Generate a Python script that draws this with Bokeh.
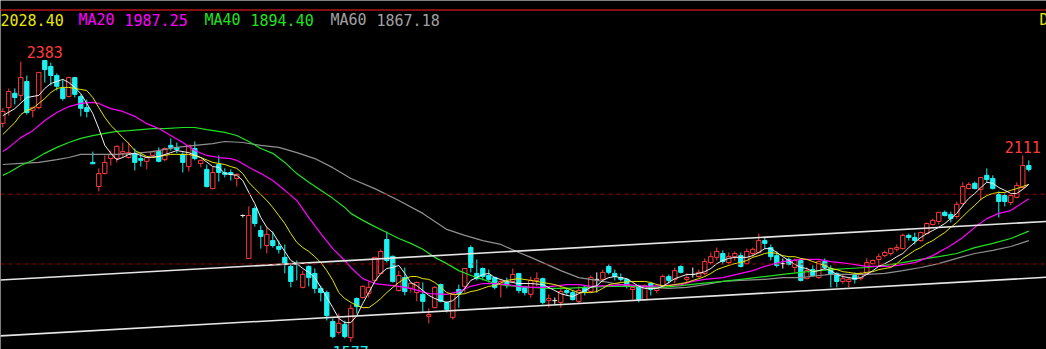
import numpy as np
from bokeh.plotting import figure
from bokeh.models import Range1d, Span, Label, ColumnDataSource
from bokeh.core.properties import value
from bokeh.embed import file_html
from bokeh.resources import INLINE

# ---------------- data ----------------
opens = [2203, 2248, 2289, 2283, 2323, 2240, 2248, 2383, 2366, 2340,
         2303, 2280, 2334, 2280, 2248, 2091, 2022, 2059, 2102, 2102,
         2117, 2105, 2117, 2102, 2094, 2111, 2122, 2099, 2140, 2134,
         2114, 2079, 2131, 2088, 2071, 2016, 2085, 2062, 2062, 2045,
         1939, 1816, 1959, 1896, 1853, 1867, 1850, 1819, 1793, 1801,
         1733, 1793, 1773, 1730, 1718, 1635, 1604, 1627, 1589, 1701,
         1704, 1716, 1753, 1773, 1870, 1822, 1724, 1761, 1730, 1718,
         1713, 1650, 1675, 1741, 1690, 1647, 1727, 1736, 1847, 1773,
         1787, 1767, 1761, 1741, 1747, 1750, 1773, 1733, 1713, 1753,
         1758, 1695, 1695, 1690, 1724, 1718, 1693, 1733, 1721, 1756,
         1756, 1793, 1773, 1761, 1756, 1727, 1738, 1698, 1744, 1724,
         1736, 1764, 1756, 1793, 1756, 1770, 1764, 1773, 1804, 1819,
         1830, 1804, 1821, 1824, 1801, 1830, 1833, 1867, 1847, 1824,
         1801, 1813, 1790, 1810, 1758, 1784, 1761, 1807, 1787, 1773,
         1750, 1750, 1767, 1758, 1773, 1801, 1813, 1824, 1830, 1842,
         1844, 1882, 1876, 1867, 1887, 1913, 1922, 1948, 1942, 1936,
         1973, 2016, 2031, 2014, 2054, 2045, 1999, 1996, 1976, 1991,
         2019, 2082]
closes = [2237, 2294, 2277, 2334, 2234, 2248, 2349, 2357, 2340, 2309,
          2274, 2334, 2286, 2246, 2237, 2087, 2059, 2091, 2114, 2137,
          2122, 2119, 2091, 2097, 2105, 2122, 2094, 2131, 2134, 2128,
          2091, 2140, 2102, 2097, 2022, 2062, 2062, 2057, 2057, 2057,
          1939, 1939, 1916, 1879, 1885, 1853, 1842, 1801, 1750, 1799,
          1770, 1761, 1730, 1718, 1652, 1592, 1630, 1592, 1673, 1678,
          1736, 1733, 1819, 1836, 1810, 1750, 1767, 1721, 1744, 1747,
          1693, 1655, 1733, 1693, 1670, 1713, 1716, 1787, 1790, 1758,
          1764, 1756, 1733, 1750, 1741, 1770, 1724, 1718, 1753, 1758,
          1690, 1701, 1695, 1721, 1718, 1698, 1724, 1721, 1761, 1756,
          1776, 1776, 1764, 1756, 1736, 1733, 1698, 1738, 1727, 1730,
          1764, 1753, 1781, 1776, 1761, 1770, 1776, 1807, 1821, 1836,
          1807, 1821, 1830, 1793, 1836, 1842, 1867, 1859, 1821, 1796,
          1801, 1799, 1810, 1753, 1781, 1767, 1807, 1790, 1770, 1750,
          1758, 1756, 1756, 1770, 1804, 1810, 1821, 1833, 1844, 1847,
          1882, 1876, 1867, 1890, 1916, 1925, 1948, 1939, 1930, 1971,
          2022, 2028, 2016, 2048, 2042, 2016, 1979, 1979, 1996, 2025,
          2082, 2071]
highs = [2246, 2303, 2303, 2380, 2340, 2251, 2349, 2383, 2377, 2346,
         2329, 2337, 2334, 2286, 2271, 2122, 2074, 2111, 2125, 2140,
         2148, 2148, 2131, 2117, 2108, 2125, 2134, 2134, 2160, 2148,
         2120, 2140, 2151, 2099, 2085, 2077, 2111, 2074, 2071, 2059,
         1942, 1965, 1965, 1910, 1907, 1893, 1867, 1856, 1801, 1810,
         1781, 1796, 1787, 1738, 1724, 1644, 1658, 1638, 1684, 1704,
         1738, 1750, 1819, 1842, 1893, 1824, 1781, 1790, 1747, 1750,
         1747, 1673, 1736, 1744, 1693, 1716, 1741, 1787, 1853, 1813,
         1790, 1784, 1764, 1753, 1761, 1787, 1773, 1736, 1764, 1776,
         1761, 1713, 1704, 1733, 1733, 1724, 1736, 1738, 1767, 1776,
         1784, 1799, 1784, 1773, 1758, 1736, 1741, 1741, 1747, 1733,
         1770, 1770, 1790, 1796, 1773, 1790, 1784, 1816, 1833, 1847,
         1839, 1833, 1836, 1833, 1844, 1847, 1887, 1876, 1856, 1836,
         1816, 1819, 1816, 1816, 1790, 1796, 1810, 1816, 1796, 1776,
         1770, 1761, 1776, 1778, 1816, 1813, 1830, 1839, 1847, 1856,
         1887, 1887, 1890, 1893, 1919, 1930, 1948, 1953, 1950, 1979,
         2034, 2034, 2036, 2048, 2074, 2054, 2008, 2002, 2002, 2034,
         2111, 2097]
lows = [2191, 2225, 2257, 2268, 2228, 2220, 2243, 2320, 2311, 2297,
        2268, 2277, 2277, 2223, 2220, 2087, 2008, 2057, 2082, 2091,
        2105, 2102, 2068, 2079, 2071, 2108, 2091, 2094, 2125, 2117,
        2062, 2065, 2097, 2077, 2019, 2014, 2036, 2048, 2039, 2022,
        1933, 1816, 1907, 1844, 1830, 1847, 1830, 1773, 1733, 1753,
        1730, 1736, 1716, 1693, 1638, 1587, 1598, 1587, 1577, 1658,
        1701, 1704, 1747, 1770, 1804, 1747, 1721, 1710, 1718, 1693,
        1661, 1630, 1673, 1690, 1661, 1641, 1675, 1718, 1776, 1753,
        1753, 1747, 1727, 1704, 1730, 1747, 1716, 1710, 1704, 1736,
        1684, 1675, 1684, 1675, 1710, 1695, 1687, 1710, 1718, 1718,
        1747, 1770, 1753, 1750, 1730, 1698, 1690, 1695, 1710, 1716,
        1733, 1744, 1744, 1773, 1747, 1761, 1761, 1767, 1799, 1810,
        1799, 1799, 1810, 1790, 1799, 1821, 1830, 1844, 1810, 1790,
        1787, 1796, 1776, 1750, 1756, 1764, 1758, 1781, 1733, 1733,
        1744, 1733, 1744, 1753, 1770, 1799, 1793, 1819, 1824, 1836,
        1842, 1867, 1856, 1864, 1885, 1910, 1913, 1936, 1919, 1930,
        1968, 2014, 2014, 1982, 2034, 2014, 1933, 1965, 1968, 1988,
        2016, 2065]

ma5_idx = [0, 2, 4, 6, 7, 8, 9, 10, 11, 12, 13, 14, 15, 16, 17, 18, 19, 20, 21, 22,
           23, 24, 26, 28, 29, 31, 33, 35, 36, 37, 39, 40, 41, 42, 43, 44, 45, 46, 47, 48,
           49, 50, 51, 52, 53, 54, 55, 56, 57, 58, 59, 60, 61, 62, 63, 64, 65, 66, 67, 68,
           69, 70, 71, 72, 73, 74, 75, 76, 77, 78, 79, 80, 81, 82, 84, 86, 88, 90, 92, 93,
           94, 95, 96, 97, 98, 99, 100, 101, 102, 103, 104, 105, 106, 107, 108, 109, 110, 111, 112, 113,
           114, 115, 116, 117, 118, 119, 120, 121, 122, 123, 124, 125, 126, 127, 128, 129, 130, 131, 132, 133,
           134, 135, 136, 137, 138, 139, 140, 141, 142, 143, 144, 145, 146, 147, 148, 149, 150, 151, 152, 153,
           154, 155, 156, 157, 158, 159, 160, 161, 162, 163, 164, 165, 166, 167, 168, 169, 170, 171]
ma5_val = [2225, 2245, 2277, 2283, 2303, 2317, 2323, 2329, 2320, 2306, 2288, 2260, 2231, 2188, 2140, 2117, 2099, 2105, 2114, 2117,
           2111, 2105, 2108, 2119, 2125, 2119, 2105, 2079, 2077, 2059, 2054, 2039, 2005, 1973, 1933, 1905, 1890, 1862, 1836, 1810,
           1801, 1787, 1776, 1761, 1733, 1704, 1675, 1644, 1632, 1632, 1652, 1687, 1718, 1750, 1773, 1787, 1790, 1796, 1773, 1747,
           1738, 1724, 1710, 1701, 1695, 1690, 1695, 1710, 1730, 1753, 1761, 1770, 1773, 1761, 1750, 1744, 1744, 1741, 1724, 1715,
           1710, 1707, 1715, 1724, 1733, 1738, 1753, 1761, 1764, 1761, 1758, 1747, 1736, 1730, 1730, 1730, 1736, 1747, 1758, 1764,
           1770, 1770, 1773, 1778, 1787, 1801, 1810, 1816, 1819, 1819, 1819, 1824, 1833, 1844, 1844, 1833, 1821, 1810, 1799, 1790,
           1787, 1778, 1781, 1787, 1781, 1770, 1764, 1761, 1758, 1761, 1770, 1781, 1793, 1801, 1810, 1821, 1830, 1847, 1862, 1876,
           1887, 1896, 1905, 1916, 1930, 1945, 1968, 1988, 2002, 2019, 2034, 2031, 2019, 2011, 2002, 2002, 2014, 2028]

ma10_idx = [0, 1, 2, 3, 4, 5, 6, 7, 8, 9, 10, 11, 12, 13, 14, 15, 16, 17, 18, 19,
            20, 21, 22, 23, 24, 25, 26, 27, 28, 29, 31, 33, 35, 37, 38, 39, 40, 41, 42, 43,
            44, 45, 46, 47, 48, 49, 50, 51, 52, 53, 54, 55, 56, 57, 58, 59, 60, 61, 62, 63,
            64, 65, 66, 67, 68, 69, 70, 71, 72, 73, 74, 75, 76, 77, 78, 79, 80, 81, 82, 84,
            86, 88, 90, 92, 94, 96, 97, 98, 99, 100, 101, 102, 103, 105, 107, 108, 109, 110, 111, 112,
            113, 114, 115, 116, 117, 118, 119, 120, 121, 122, 123, 124, 125, 126, 127, 128, 129, 130, 131, 132,
            133, 134, 135, 136, 137, 138, 139, 140, 141, 142, 143, 144, 145, 146, 147, 148, 149, 150, 151, 152,
            153, 154, 155, 156, 157, 158, 159, 160, 161, 162, 163, 164, 165, 166, 167, 168, 169, 170, 171]
ma10_val = [2171, 2188, 2205, 2228, 2240, 2246, 2260, 2274, 2291, 2303, 2306, 2306, 2303, 2300, 2297, 2277, 2248, 2220, 2197, 2180,
            2162, 2145, 2125, 2117, 2108, 2105, 2108, 2111, 2114, 2114, 2114, 2105, 2091, 2085, 2079, 2074, 2059, 2034, 2016, 1999,
            1982, 1962, 1939, 1916, 1887, 1862, 1847, 1836, 1821, 1804, 1781, 1753, 1718, 1701, 1690, 1681, 1675, 1675, 1687, 1701,
            1718, 1733, 1747, 1758, 1764, 1764, 1758, 1756, 1747, 1733, 1718, 1713, 1713, 1715, 1721, 1724, 1730, 1736, 1738, 1753,
            1758, 1753, 1747, 1741, 1730, 1718, 1718, 1718, 1721, 1730, 1741, 1744, 1747, 1750, 1750, 1747, 1741, 1738, 1738, 1741,
            1744, 1747, 1753, 1758, 1764, 1773, 1784, 1790, 1796, 1801, 1804, 1810, 1819, 1824, 1830, 1833, 1830, 1824, 1821, 1821,
            1816, 1813, 1807, 1801, 1796, 1787, 1784, 1778, 1776, 1773, 1773, 1776, 1778, 1784, 1787, 1790, 1801, 1816, 1827, 1839,
            1847, 1859, 1867, 1879, 1890, 1905, 1919, 1936, 1953, 1968, 1985, 1996, 2002, 2005, 2005, 2011, 2016, 2022, 2028]

ma20_idx = [0, 1, 3, 5, 7, 9, 11, 13, 15, 16, 18, 20, 22, 24, 26, 28, 30, 32, 34, 36,
            38, 39, 41, 43, 45, 47, 49, 51, 53, 55, 57, 58, 60, 62, 66, 68, 71, 74, 76, 78,
            80, 82, 84, 86, 88, 90, 94, 96, 98, 101, 104, 107, 110, 113, 115, 117, 120, 123, 125, 127,
            130, 133, 136, 138, 141, 144, 146, 148, 152, 155, 158, 160, 162, 164, 166, 168, 171]
ma20_val = [2122, 2134, 2162, 2182, 2211, 2234, 2251, 2260, 2263, 2260, 2245, 2237, 2223, 2202, 2188, 2168, 2148, 2125, 2111, 2105,
            2102, 2097, 2077, 2059, 2039, 2011, 1982, 1933, 1887, 1844, 1810, 1790, 1758, 1744, 1736, 1730, 1715, 1713, 1721, 1736,
            1744, 1744, 1741, 1736, 1733, 1733, 1741, 1741, 1736, 1738, 1741, 1736, 1738, 1741, 1750, 1756, 1761, 1773, 1781, 1793,
            1807, 1813, 1813, 1807, 1801, 1793, 1793, 1793, 1804, 1824, 1853, 1876, 1905, 1930, 1945, 1953, 1987]

ma40_idx = [0, 1, 3, 5, 7, 9, 11, 13, 15, 17, 19, 21, 23, 25, 27, 30, 32, 34, 37, 39,
            41, 43, 45, 47, 49, 51, 53, 55, 57, 58, 60, 62, 64, 66, 68, 70, 72, 74, 76, 78,
            80, 82, 84, 86, 88, 91, 94, 97, 101, 104, 107, 110, 113, 116, 120, 123, 127, 130, 133, 136,
            138, 141, 144, 147, 150, 153, 156, 159, 162, 165, 168, 171]
ma40_val = [2054, 2062, 2082, 2097, 2117, 2134, 2148, 2160, 2168, 2174, 2180, 2182, 2185, 2188, 2188, 2191, 2191, 2185, 2177, 2168,
            2151, 2131, 2117, 2091, 2059, 2034, 2011, 1988, 1962, 1945, 1925, 1907, 1890, 1873, 1859, 1842, 1819, 1801, 1781, 1767,
            1756, 1744, 1738, 1736, 1733, 1730, 1730, 1733, 1736, 1736, 1736, 1733, 1738, 1744, 1750, 1756, 1764, 1770, 1776, 1781,
            1784, 1787, 1790, 1796, 1804, 1813, 1821, 1830, 1847, 1859, 1873, 1894]

ma60_idx = [0, 3, 6, 9, 11, 13, 16, 19, 22, 25, 28, 29, 32, 35, 37, 40, 43, 46, 49, 52,
            55, 58, 62, 66, 70, 74, 77, 80, 83, 86, 88, 90, 93, 96, 99, 102, 105, 108, 111, 114,
            117, 120, 123, 127, 130, 133, 136, 138, 141, 144, 147, 150, 153, 156, 159, 162, 165, 168, 171]
ma60_val = [2085, 2088, 2091, 2099, 2105, 2114, 2114, 2114, 2117, 2122, 2131, 2134, 2140, 2145, 2151, 2148, 2140, 2134, 2119, 2102,
            2076, 2045, 2016, 1982, 1945, 1899, 1882, 1867, 1856, 1833, 1819, 1804, 1781, 1761, 1753, 1744, 1736, 1733, 1730, 1733,
            1741, 1750, 1753, 1756, 1761, 1761, 1767, 1770, 1770, 1770, 1773, 1781, 1790, 1801, 1816, 1830, 1839, 1850, 1867]

# channel (trend) lines drawn on the chart: [start, end] in bar index / price
chan_x = [-0.4, 174.0]
chan_upper = [1754, 1922]
chan_lower = [1594, 1762]
guide_levels = [2000, 1800]

ext_idx = [7, 170, 58]
ext_price = [2383, 2111, 1577]
ext_text = ["2383", "2111", "1577"]

header_texts = ["2028.40", "MA20", "1987.25", "MA40", "1894.40", "MA60", "1867.18", "D"]

# ---------------- styling ----------------
RED = "#FF3C3C"
CYAN = "#1EF0F0"
WHITE = "#F0F0F0"
YELLOW = "#E8E800"
MAGENTA = "#FF00FF"
GREEN = "#22E022"
GRAY = "#909090"
DARKRED = "#B01414"

o = np.array(opens, float)
c = np.array(closes, float)
h = np.array(highs, float)
l = np.array(lows, float)
x = np.arange(len(c))
up = c > o
dn = c < o
dj = c == o

p = figure(width=1046, height=349, output_backend="svg", toolbar_location=None,
           x_range=Range1d(-0.383, 173.95), y_range=Range1d(1555.0, 2554.9),
           x_axis_location=None, y_axis_location=None, min_border=0,
           background_fill_color="black", border_fill_color="black",
           outline_line_color=None)
p.xgrid.visible = False
p.ygrid.visible = False

# frame top line and guide levels
p.add_layout(Span(location=2527.7, dimension="width", line_color=DARKRED, line_width=1.5))
for lv in guide_levels:
    p.add_layout(Span(location=lv, dimension="width", line_color="#A00000",
                      line_width=1, line_dash="4 4"))

# wicks
wick_col = [RED if u else (CYAN if d else WHITE) for u, d in zip(up, dn)]
p.segment(x0=x, y0=h, x1=x, y1=l, line_color=wick_col, line_width=1)

# up bodies (hollow red)
p.vbar(x=x[up], width=0.72, top=c[up], bottom=o[up], fill_color="black",
       line_color=RED, line_width=1)
# down bodies (solid cyan)
p.vbar(x=x[dn], width=0.72, top=o[dn], bottom=c[dn], fill_color=CYAN,
       line_color=CYAN, line_width=1)
# doji
p.segment(x0=x[dj] - 0.4, y0=o[dj], x1=x[dj] + 0.4, y1=o[dj], line_color=WHITE, line_width=1)

# moving averages
p.line(ma60_idx, ma60_val, line_color=GRAY, line_width=1.2)
p.line(ma40_idx, ma40_val, line_color=GREEN, line_width=1.2)
p.line(ma20_idx, ma20_val, line_color=MAGENTA, line_width=1.2)
p.line(ma10_idx, ma10_val, line_color=YELLOW, line_width=1)
p.line(ma5_idx, ma5_val, line_color=WHITE, line_width=1)

# channel lines
p.line(chan_x, chan_upper, line_color="#E6E6E6", line_width=1.6)
p.line(chan_x, chan_lower, line_color="#E6E6E6", line_width=1.6)

# extreme labels
src_hi = ColumnDataSource(dict(x=ext_idx[:2], y=ext_price[:2], t=ext_text[:2]))
p.text(x="x", y="y", text="t", source=src_hi, text_color=RED,
       text_font=value("DejaVu Sans Mono"), text_font_size="15px",
       text_align="center", text_baseline="bottom", y_offset=-2)
src_lo = ColumnDataSource(dict(x=ext_idx[2:], y=ext_price[2:], t=ext_text[2:]))
p.text(x="x", y="y", text="t", source=src_lo, text_color=CYAN,
       text_font=value("DejaVu Sans Mono"), text_font_size="15px",
       text_align="center", text_baseline="top", y_offset=4)

# header
hx = [0, 78, 124, 204, 250, 330, 376, 1039]
hc = [YELLOW, MAGENTA, MAGENTA, GREEN, GREEN, "#A0A0A0", "#A0A0A0", YELLOW]
for t, xx, col in zip(header_texts, hx, hc):
    p.add_layout(Label(x=xx, y=349 - 19.5, x_units="screen", y_units="screen",
                       text=t, text_color=col, text_font="DejaVu Sans Mono",
                       text_font_size="15px", text_baseline="middle"))

open("out.html", "w").write(file_html(p, INLINE))
